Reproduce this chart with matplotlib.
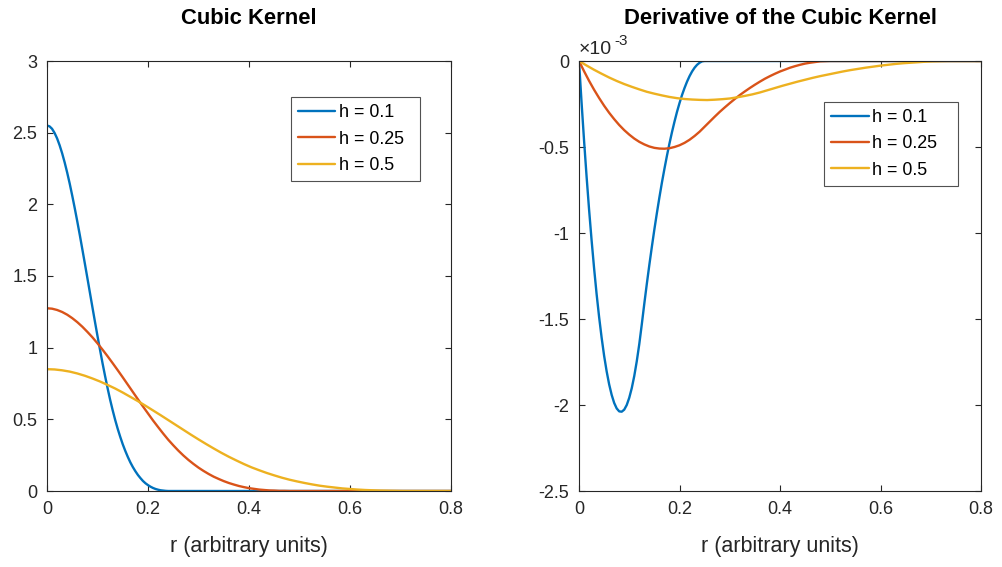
import matplotlib
matplotlib.use("Agg")
import matplotlib.pyplot as plt

plt.rcParams["font.family"] = ["Liberation Sans", "DejaVu Sans"]

# smoothing lengths and line colours
labels = ["h = 0.1", "h = 0.25", "h = 0.5"]
colors = ["#0072BD", "#D95319", "#EDB120"]

# radial sample positions for each curve (over its support, then out to 0.8)
r_h01 = [0.000, 0.005, 0.010, 0.015, 0.020, 0.025, 0.030, 0.035, 0.040, 0.045,
         0.050, 0.055, 0.060, 0.065, 0.070, 0.075, 0.080, 0.085, 0.090, 0.095,
         0.100, 0.105, 0.110, 0.115, 0.120, 0.125, 0.130, 0.135, 0.140, 0.145,
         0.150, 0.155, 0.160, 0.165, 0.170, 0.175, 0.180, 0.185, 0.190, 0.195,
         0.200, 0.205, 0.210, 0.215, 0.220, 0.225, 0.230, 0.235, 0.240, 0.245,
         0.250, 0.800]
r_h025 = [0.00, 0.01, 0.02, 0.03, 0.04, 0.05, 0.06, 0.07, 0.08, 0.09,
          0.10, 0.11, 0.12, 0.13, 0.14, 0.15, 0.16, 0.17, 0.18, 0.19,
          0.20, 0.21, 0.22, 0.23, 0.24, 0.25, 0.26, 0.27, 0.28, 0.29,
          0.30, 0.31, 0.32, 0.33, 0.34, 0.35, 0.36, 0.37, 0.38, 0.39,
          0.40, 0.41, 0.42, 0.43, 0.44, 0.45, 0.46, 0.47, 0.48, 0.49,
          0.50, 0.80]
r_h05 = [0.000, 0.015, 0.030, 0.045, 0.060, 0.075, 0.090, 0.105, 0.120, 0.135,
         0.150, 0.165, 0.180, 0.195, 0.210, 0.225, 0.240, 0.255, 0.270, 0.285,
         0.300, 0.315, 0.330, 0.345, 0.360, 0.375, 0.390, 0.405, 0.420, 0.435,
         0.450, 0.465, 0.480, 0.495, 0.510, 0.525, 0.540, 0.555, 0.570, 0.585,
         0.600, 0.615, 0.630, 0.645, 0.660, 0.675, 0.690, 0.705, 0.720, 0.735,
         0.750, 0.800]

# kernel values W(r)
W_h01 = [2.550, 2.544, 2.527, 2.498, 2.460, 2.412, 2.356, 2.292, 2.221, 2.144,
         2.060, 1.972, 1.880, 1.785, 1.686, 1.586, 1.485, 1.383, 1.281, 1.180,
         1.081, 0.985, 0.891, 0.802, 0.717, 0.637, 0.564, 0.496, 0.434, 0.378,
         0.326, 0.280, 0.238, 0.200, 0.167, 0.138, 0.112, 0.090, 0.070, 0.054,
         0.041, 0.030, 0.021, 0.014, 0.009, 0.005, 0.003, 0.001, 0.000, 0.000,
         0.000, 0.000]
W_h025 = [1.275, 1.272, 1.263, 1.249, 1.230, 1.206, 1.178, 1.146, 1.110, 1.072,
          1.030, 0.986, 0.940, 0.892, 0.843, 0.793, 0.742, 0.691, 0.640, 0.590,
          0.541, 0.492, 0.446, 0.401, 0.358, 0.319, 0.282, 0.248, 0.217, 0.189,
          0.163, 0.140, 0.119, 0.100, 0.084, 0.069, 0.056, 0.045, 0.035, 0.027,
          0.020, 0.015, 0.010, 0.007, 0.004, 0.003, 0.001, 0.001, 0.000, 0.000,
          0.000, 0.000]
W_h05 = [0.850, 0.848, 0.842, 0.833, 0.820, 0.804, 0.785, 0.764, 0.740, 0.715,
         0.687, 0.657, 0.627, 0.595, 0.562, 0.529, 0.495, 0.461, 0.427, 0.393,
         0.360, 0.328, 0.297, 0.267, 0.239, 0.213, 0.188, 0.165, 0.145, 0.126,
         0.109, 0.093, 0.079, 0.067, 0.056, 0.046, 0.037, 0.030, 0.024, 0.018,
         0.014, 0.010, 0.007, 0.005, 0.003, 0.002, 0.001, 0.000, 0.000, 0.000,
         0.000, 0.000]

# kernel derivative dW/dr, in units of 1e-3
dW_h01 = [0.000, -0.237, -0.460, -0.668, -0.862, -1.040, -1.204, -1.354, -1.488, -1.608,
          -1.714, -1.804, -1.880, -1.941, -1.988, -2.020, -2.037, -2.039, -2.027, -2.000,
          -1.958, -1.902, -1.831, -1.745, -1.645, -1.530, -1.410, -1.295, -1.185, -1.080,
          -0.979, -0.884, -0.793, -0.707, -0.627, -0.551, -0.480, -0.414, -0.353, -0.296,
          -0.245, -0.198, -0.157, -0.120, -0.088, -0.061, -0.039, -0.022, -0.010, -0.002,
          0.000, 0.000]
dW_h025 = [0.000, -0.059, -0.115, -0.167, -0.215, -0.260, -0.301, -0.338, -0.372, -0.402,
           -0.428, -0.451, -0.470, -0.485, -0.497, -0.505, -0.509, -0.510, -0.507, -0.500,
           -0.490, -0.476, -0.458, -0.436, -0.411, -0.382, -0.353, -0.324, -0.296, -0.270,
           -0.245, -0.221, -0.198, -0.177, -0.157, -0.138, -0.120, -0.103, -0.088, -0.074,
           -0.061, -0.050, -0.039, -0.030, -0.022, -0.015, -0.010, -0.006, -0.002, -0.001,
           0.000, 0.000]
dW_h05 = [0.000, -0.026, -0.051, -0.074, -0.096, -0.116, -0.134, -0.150, -0.165, -0.179,
          -0.190, -0.200, -0.209, -0.216, -0.221, -0.224, -0.226, -0.227, -0.225, -0.222,
          -0.218, -0.211, -0.203, -0.194, -0.183, -0.170, -0.157, -0.144, -0.132, -0.120,
          -0.109, -0.098, -0.088, -0.079, -0.070, -0.061, -0.053, -0.046, -0.039, -0.033,
          -0.027, -0.022, -0.017, -0.013, -0.010, -0.007, -0.004, -0.002, -0.001, 0.000,
          0.000, 0.000]

x_ticks = [0, 0.2, 0.4, 0.6, 0.8]
x_ticklabels = ["0", "0.2", "0.4", "0.6", "0.8"]
w_ticks = [0, 0.5, 1, 1.5, 2, 2.5, 3]
w_ticklabels = ["0", "0.5", "1", "1.5", "2", "2.5", "3"]
dw_ticks = [-2.5, -2, -1.5, -1, -0.5, 0]
dw_ticklabels = ["-2.5", "-2", "-1.5", "-1", "-0.5", "0"]

axis_color = "#262626"
line_w = 1.7

fig = plt.figure(figsize=(10.02, 5.67), dpi=100)
ax1 = fig.add_axes([47 / 1002, 76 / 567, 404 / 1002, 430 / 567])
ax2 = fig.add_axes([579 / 1002, 76 / 567, 402 / 1002, 430 / 567])


def style_axes(ax, title):
    for sp in ax.spines.values():
        sp.set_color(axis_color)
        sp.set_linewidth(0.8)
    ax.tick_params(direction="in", top=True, right=True, length=4, width=0.8,
                   colors=axis_color, labelsize=13, pad=7)
    ax.set_xlim(0, 0.8)
    ax.set_xticks(x_ticks)
    ax.set_xticklabels(x_ticklabels)
    ax.set_xlabel("r (arbitrary units)", fontsize=15.5, color=axis_color, labelpad=13)
    ax.set_title(title, fontsize=15.8, fontweight="bold", pad=27)


def add_legend(ax, x0, top, width):
    leg = ax.legend(loc="upper left", bbox_to_anchor=(x0, top - 0.4, width, 0.4),
                    mode="expand", frameon=True, fancybox=False, shadow=False,
                    fontsize=12.9, handlelength=2.1, handletextpad=0.2,
                    labelspacing=0.52, borderpad=0.4, borderaxespad=0.0)
    leg.get_frame().set_edgecolor(axis_color)
    leg.get_frame().set_linewidth(0.8)
    for line in leg.get_lines():
        line.set_linewidth(line_w)
    return leg


# left: kernel
for r, w, c, lab in zip([r_h01, r_h025, r_h05], [W_h01, W_h025, W_h05], colors, labels):
    ax1.plot(r, w, color=c, lw=line_w, label=lab, solid_capstyle="round")
ax1.set_ylim(0, 3)
ax1.set_yticks(w_ticks)
ax1.set_yticklabels(w_ticklabels)
style_axes(ax1, "Cubic Kernel")
add_legend(ax1, 0.603, 0.916, 0.320)

# right: derivative
for r, d, c, lab in zip([r_h01, r_h025, r_h05], [dW_h01, dW_h025, dW_h05], colors, labels):
    ax2.plot(r, d, color=c, lw=line_w, label=lab, solid_capstyle="round")
ax2.set_ylim(-2.5, 0)
ax2.set_yticks(dw_ticks)
ax2.set_yticklabels(dw_ticklabels)
style_axes(ax2, "Derivative of the Cubic Kernel")
add_legend(ax2, 0.609, 0.905, 0.334)

# exponent marker for the derivative axis
ax2.text(0.0, 1.016, "\u00d710", transform=ax2.transAxes, ha="left", va="baseline",
         fontsize=14, color=axis_color)
ax2.text(0.087, 1.038, "-3", transform=ax2.transAxes, ha="left", va="baseline",
         fontsize=11, color=axis_color)

fig.savefig("out.png", dpi=100)
